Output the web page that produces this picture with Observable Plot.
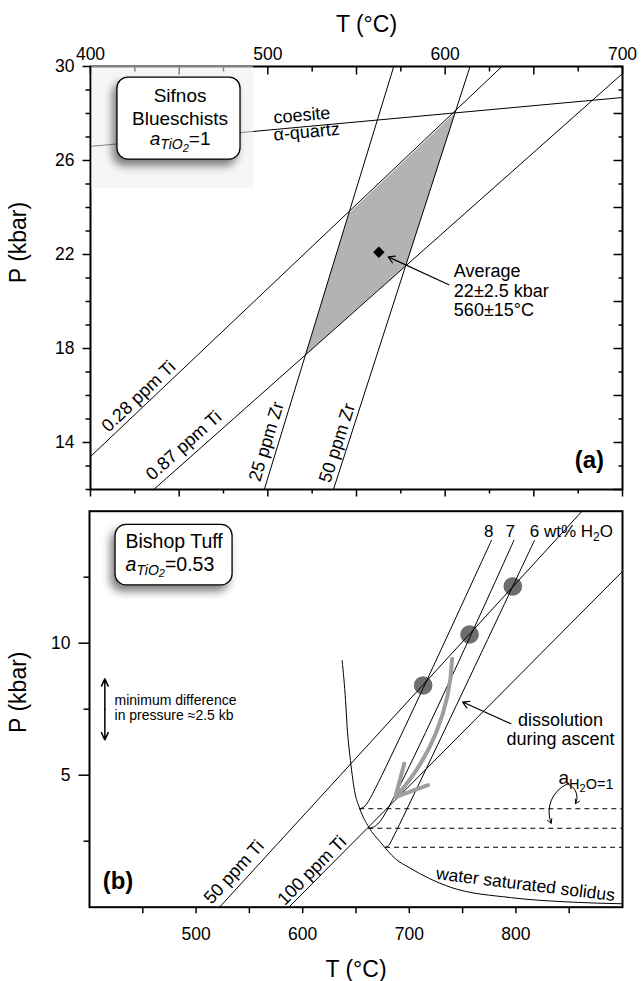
<!DOCTYPE html>
<html>
<head>
<meta charset="utf-8">
<script src="https://cdn.jsdelivr.net/npm/d3@7"></script>
<script src="https://cdn.jsdelivr.net/npm/@observablehq/plot@0.6"></script>
<style>
  html, body { margin: 0; padding: 0; background: #fff; }
  #chart { width: 641px; height: 981px; overflow: hidden; }
  #chart svg { display: block; }
</style>
</head>
<body>
<div id="chart"></div>
<script>
// ================= Panel (a): Sifnos blueschists =================
const tempTicksA = [400, 425, 450, 475, 500, 525, 550, 575, 600, 625, 650, 675, 700];
const tempLabelsA = [400, 500, 600, 700];
const presTicksA = [12, 13, 14, 15, 16, 17, 18, 19, 20, 21, 22, 23, 24, 25, 26, 27, 28, 29, 30];
const presLabelsA = [14, 18, 22, 26, 30];
const ti028 = [[400, 13.4], [632, 30]];
const ti087 = [[435.7, 12], [700, 29.7]];
const zr25 = [[498, 12], [571, 30]];
const zr50 = [[537, 12], [614, 30]];
const coesiteQuartz = [[400, 26.6], [700, 28.68]];
const overlapField = [[605.9, 28.06], [577.7, 21.53], [521.3, 17.74], [545.7, 23.76]];
const averagePT = [[562.6, 22.1]];
const averageArrow = [[602.1, 20.71, 567.9, 21.9]];
const averageNote = [["Average\n22±2.5 kbar\n560±15°C", 604.9, 20.47]];
const lineLabelsA = [["0.28 ppm Ti", 427.1, 15.96], ["0.87 ppm Ti", 452.6, 13.87], ["25 ppm Zr", 499.2, 14.04], ["50 ppm Zr", 539.1, 13.98]];
const phaseLabelsA = [["coesite", 503.2, 27.82], ["α-quartz", 503.2, 27.09]];
const fadeA = [[400.7, 492, 24.8, 30]];
const boxA = [[415.2, 484.6, 26.04, 29.53]];
const boxTextA = [["Sifnos\nBlueschists", 450.5, 28.32]];
const boxFormulaA = [["aTiO2=1", 450.5, 26.9]];
const panelTagA = [["(a)", 681.3, 13.26]];

// ================= Panel (b): Bishop Tuff =================
const tempTicksB = [450, 500, 550, 600, 650, 700, 750, 800, 850];
const tempLabelsB = [500, 600, 700, 800];
const presTicksB = [2.5, 5, 7.5, 10, 12.5];
const presLabelsB = [5, 10];
const ti50 = [[522, 0], [862, 15]];
const ti100 = [[587, 0], [900, 12.72]];
const h2o8 = [[777.1, 13.9], [662.2, 4.05], [657.5, 3.8], [653.6, 3.73]];
const h2o7 = [[798.2, 13.9], [673.5, 3.3], [666.5, 3.04], [662, 2.99]];
const h2o6 = [[817.5, 13.9], [684.5, 2.62], [680.5, 2.33], [677.7, 2.27]];
const waterSaturated = [[653.6, 900, 3.73], [662, 900, 2.99], [677.7, 900, 2.27]];
const solidus = [[637, 9.34], [640.2, 7.83], [641.7, 6.82], [644.8, 5.56], [648.6, 4.42], [653.6, 3.73], [662, 3.03], [673, 2.46], [687.1, 1.83], [699.9, 1.5], [738.3, 0.76], [795.8, 0.36], [853.4, 0.19], [899.4, 0.13]];
const meltInclusions = [[713.0, 8.40], [756.5, 10.33], [797.1, 12.15]];
const ascentArrow = [[740.2, 9.41, 687, 4.17]];
const dissolutionArrow = [[795.3, 6.95, 750, 7.77]];
const pressureArrows = [[414.4, 7.5, 414.4, 8.65], [414.4, 7.5, 414.4, 6.34]];
const aH2OArrowRight = [[848.4, 4.67, 855.9, 3.92]];
const aH2OArrowLeft = [[848.4, 4.67, 833.1, 3.18]];
const lineLabelsB = [["50 ppm Ti", 535.6, 1.33], ["100 ppm Ti", 608.7, 1.39]];
const wtLabels = [["8", 774.6, 14.24], ["7", 794.6, 14.24]];
const wtLabel6 = [["6 wt% H2O", 813, 14.24]];
const solidusLabel = [["water saturated solidus", 809, 0.86]];
const dissolutionNote = [["dissolution\nduring ascent", 841.8, 6.745]];
const pressureNote = [["minimum difference\nin pressure ≈2.5 kb", 423.5, 7.565]];
const aH2OLabel = [["aH2O=1", 840, 4.91]];
const boxB = [[424.4, 534.2, 12.19, 14.48]];
const boxTextB = [["Bishop Tuff", 433.8, 13.86]];
const boxFormulaB = [["aTiO2=0.53", 433.8, 12.99]];
const panelTagB = [["(b)", 426.7, 0.97]];

// ================= helpers =================
const FONT = "'Liberation Sans', Arial, Helvetica, sans-serif";
const X = d => d[0], Y = d => d[1];
const tickShape = {draw(ctx, l) { ctx.moveTo(0, 0); ctx.lineTo(0, -l); }};
const vtick = (vals, opts) => Plot.vector(vals, {anchor: "start", shape: tickShape, stroke: "black", strokeWidth: 1.5, strokeLinecap: "butt", ...opts});
const lab = (arr, opts) => Plot.text(arr, {text: d => d[0], x: d => d[1], y: d => d[2], fontSize: 18, ...opts});
const seg = (arr, opts) => Plot.arrow(arr, {x1: d => d[0], y1: d => d[1], x2: d => d[2], y2: d => d[3], ...opts});
const box = (arr) => Plot.rect(arr, {x1: d => d[0], x2: d => d[1], y1: d => d[2], y2: d => d[3], fill: "#fffffe", stroke: "black", strokeWidth: 1.3, rx: 11, ry: 11});
const ln = (arr, opts) => Plot.line(arr, {x: X, y: Y, stroke: "black", strokeWidth: 1, ...opts});

function richText(svg, match, parts) {
  d3.select(svg).selectAll("text").filter(function () { return this.textContent === match; })
    .each(function () {
      const t = d3.select(this);
      t.text(null);
      let cur = 0;
      for (const p of parts) {
        const s = t.append("tspan").text(p.t);
        if (p.i) s.attr("font-style", "italic");
        if (p.s) s.attr("font-size", p.s);
        const shift = p.d || 0;
        if (shift !== cur) { s.attr("dy", shift - cur); cur = shift; }
      }
    });
}
function shadowBoxes(svg, id) {
  const s = d3.select(svg);
  const f = s.insert("defs", ":first-child").append("filter").attr("id", id)
    .attr("x", "-40%").attr("y", "-40%").attr("width", "180%").attr("height", "190%");
  f.append("feDropShadow").attr("dx", -4).attr("dy", 6).attr("stdDeviation", 4.5)
    .attr("flood-color", "#000").attr("flood-opacity", 0.5);
  s.selectAll('[fill="#fffffe"]').each(function () {
    const el = d3.select(this);
    el.attr("filter", `url(#${id})`);
    (this.tagName.toLowerCase() === "rect" ? el : el.selectAll("rect")).attr("rx", 11).attr("ry", 11);
  });
}

const style = {fontFamily: FONT, fontSize: "17px", color: "black", background: "transparent", overflow: "visible"};

// ================= Plot (a) =================
const plotA = Plot.plot({
  width: 641, height: 500,
  marginTop: 66, marginBottom: 11, marginLeft: 90, marginRight: 19,
  x: {domain: [400, 700]},
  y: {domain: [12, 30]},
  style,
  marks: [
    Plot.line(overlapField, {x: X, y: Y, fill: "#b2b3b3", stroke: "none"}),
    ln(ti028), ln(ti087), ln(zr25), ln(zr50), ln(coesiteQuartz),
    Plot.dot(averagePT, {x: X, y: Y, symbol: "diamond2", r: 5.2, fill: "black", stroke: "none"}),
    seg(averageArrow, {stroke: "black", strokeWidth: 1.2, headLength: 9}),
    lab(averageNote, {textAnchor: "start", lineHeight: 1.07}),
    lab([lineLabelsA[0]], {rotate: -43.5}),
    lab([lineLabelsA[1]], {rotate: -41.7}),
    lab([lineLabelsA[2]], {rotate: -73}),
    lab([lineLabelsA[3]], {rotate: -72.1}),
    lab(phaseLabelsA, {textAnchor: "start", rotate: -5}),
    lab(panelTagA, {fontSize: 24, fontWeight: "bold"}),
    Plot.frame({stroke: "black", strokeWidth: 2}),
    vtick(tempTicksA.filter(d => d % 50 === 0), {x: d => d, frameAnchor: "top", rotate: 180, length: 8}),
    vtick(tempTicksA.filter(d => d % 50 !== 0), {x: d => d, frameAnchor: "top", rotate: 180, length: 5}),
    vtick(tempTicksA.filter(d => d % 50 === 0), {x: d => d, frameAnchor: "bottom", rotate: 180, length: 7}),
    vtick(tempTicksA.filter(d => d % 50 !== 0), {x: d => d, frameAnchor: "bottom", rotate: 180, length: 4}),
    vtick(presTicksA.filter(d => presLabelsA.includes(d)), {y: d => d, frameAnchor: "left", rotate: -90, length: 8}),
    vtick(presTicksA.filter(d => !presLabelsA.includes(d)), {y: d => d, frameAnchor: "left", rotate: -90, length: 5}),
    vtick(presTicksA.filter(d => d % 2 === 0), {y: d => d, frameAnchor: "right", rotate: -90, length: 9}),
    vtick(presTicksA.filter(d => d % 2 !== 0), {y: d => d, frameAnchor: "right", rotate: -90, length: 4}),
    Plot.axisX({ticks: tempLabelsA, anchor: "top", tickSize: 0, tickPadding: 7, fontSize: 17.5, label: null}),
    Plot.axisY({ticks: presLabelsA, anchor: "left", tickSize: 0, tickPadding: 16, fontSize: 17.5, label: null}),
    Plot.text(["T (°C)"], {text: d => d, frameAnchor: "top", textAnchor: "middle", lineAnchor: "middle", dx: 10, dy: -42, fontSize: 23}),
    Plot.text(["P (kbar)"], {text: d => d, frameAnchor: "top-left", textAnchor: "middle", lineAnchor: "middle", dx: -72, dy: 176, rotate: -90, fontSize: 23}),
    Plot.rect(fadeA, {x1: d => d[0], x2: d => d[1], y1: d => d[2], y2: d => d[3], fill: "#efefef", fillOpacity: 0.55}),
    box(boxA),
    lab(boxTextA, {fontSize: 19, lineHeight: 1.23}),
    lab(boxFormulaA, {fontSize: 19})
  ]
});

// ================= Plot (b) =================
const plotB = Plot.plot({
  width: 641, height: 481,
  marginTop: 10.7, marginBottom: 74.3, marginLeft: 89, marginRight: 19,
  x: {domain: [400, 900]},
  y: {domain: [0, 15]},
  style,
  marks: [
    Plot.dot(meltInclusions, {x: X, y: Y, r: 9.3, fill: "#6e6e6e", stroke: "none"}),
    ln(ti50), ln(ti100),
    ln(h2o8, {curve: "catmull-rom"}), ln(h2o7, {curve: "catmull-rom"}), ln(h2o6, {curve: "catmull-rom"}),
    ln(solidus, {curve: "monotone-x"}),
    Plot.ruleY(waterSaturated, {y: d => d[2], x1: d => d[0], x2: d => d[1], stroke: "black", strokeWidth: 1, strokeDasharray: "5,4"}),
    seg(ascentArrow, {stroke: "#9e9e9e", strokeWidth: 4, headLength: 13, headAngle: 55, bend: 20}),
    seg(dissolutionArrow, {stroke: "black", strokeWidth: 1.2, headLength: 9}),
    seg(pressureArrows, {stroke: "black", strokeWidth: 1.5, headLength: 8, headAngle: 50}),
    seg(aH2OArrowRight, {stroke: "black", strokeWidth: 1, headLength: 7, bend: 50}),
    seg(aH2OArrowLeft, {stroke: "black", strokeWidth: 1, headLength: 7, bend: -45}),
    lab([lineLabelsB[0]], {rotate: -47.5}),
    lab([lineLabelsB[1]], {rotate: -45.2}),
    lab(wtLabels, {fontSize: 17}),
    lab(wtLabel6, {fontSize: 17, textAnchor: "start"}),
    lab(solidusLabel, {fontSize: 17.5, rotate: 7}),
    lab(dissolutionNote, {lineHeight: 1.06}),
    lab(pressureNote, {fontSize: 14, textAnchor: "start", lineHeight: 1.05}),
    lab(aH2OLabel, {fontSize: 19, textAnchor: "start"}),
    lab(panelTagB, {fontSize: 24, fontWeight: "bold"}),
    Plot.frame({stroke: "black", strokeWidth: 2}),
    vtick(tempTicksB, {x: d => d, frameAnchor: "bottom", rotate: 180, length: 6}),
    vtick(presTicksB.filter(d => presLabelsB.includes(d)), {y: d => d, frameAnchor: "left", rotate: -90, length: 11}),
    vtick(presTicksB.filter(d => !presLabelsB.includes(d)), {y: d => d, frameAnchor: "left", rotate: -90, length: 6}),
    Plot.axisX({ticks: tempLabelsB, anchor: "bottom", tickSize: 0, tickPadding: 20, fontSize: 17.5, label: null}),
    Plot.axisY({ticks: presLabelsB, anchor: "left", tickSize: 0, tickPadding: 19, fontSize: 17.5, label: null}),
    Plot.text(["T (°C)"], {text: d => d, frameAnchor: "bottom", textAnchor: "middle", lineAnchor: "middle", dy: 62, fontSize: 23}),
    Plot.text(["P (kbar)"], {text: d => d, frameAnchor: "top-left", textAnchor: "middle", lineAnchor: "middle", dx: -71, dy: 181, rotate: -90, fontSize: 23}),
    box(boxB),
    lab(boxTextB, {fontSize: 19.5, textAnchor: "start"}),
    lab(boxFormulaB, {fontSize: 19.5, textAnchor: "start"})
  ]
});

const chart = document.getElementById("chart");
chart.append(plotA, plotB);

shadowBoxes(plotA, "shadowA");
shadowBoxes(plotB, "shadowB");
richText(plotA, "aTiO2=1", [{t: "a", i: 1, s: 19}, {t: "TiO", i: 1, s: 14, d: 4}, {t: "2", i: 1, s: 11, d: 7}, {t: "=1", s: 19, d: 0}]);
richText(plotB, "aTiO2=0.53", [{t: "a", i: 1, s: 19.5}, {t: "TiO", i: 1, s: 14, d: 4}, {t: "2", i: 1, s: 11, d: 7}, {t: "=0.53", s: 19.5, d: 0}]);
richText(plotB, "6 wt% H2O", [{t: "6 wt% H"}, {t: "2", s: 12, d: 4}, {t: "O", d: 0}]);
richText(plotB, "aH2O=1", [{t: "a", s: 19}, {t: "H", s: 14.5, d: 5}, {t: "2", s: 11, d: 8}, {t: "O=1", s: 14.5, d: 5}]);
</script>
</body>
</html>
